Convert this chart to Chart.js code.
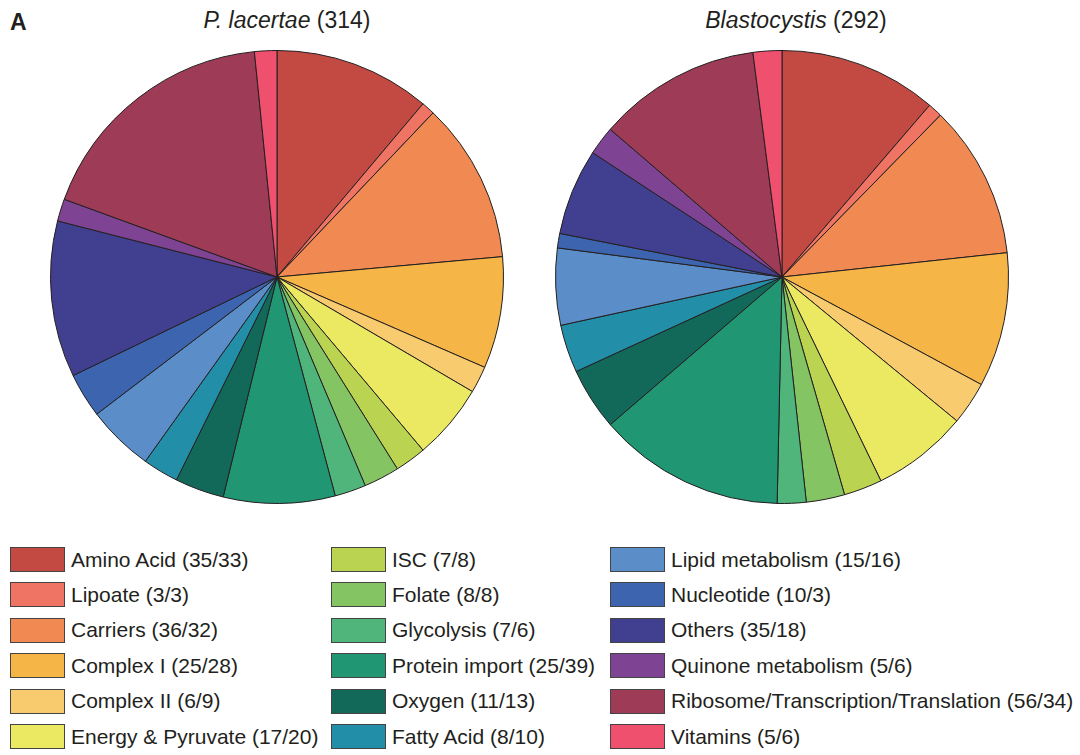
<!DOCTYPE html>
<html>
<head>
<meta charset="utf-8">
<script src="https://cdn.jsdelivr.net/npm/chart.js@4"></script>
<style>
  body { margin: 0; width: 1080px; height: 755px; background: #fff; position: relative; overflow: hidden;
         font-family: "Liberation Sans", Arial, sans-serif; color: #231f20; }
  .panel { position: absolute; left: 10px; top: 9px; font-size: 23px; font-weight: bold; }
  .title { position: absolute; top: 7px; font-size: 23px; transform: translateX(-50%); white-space: nowrap; }
  canvas { position: absolute; }
  .leg { position: absolute; display: flex; align-items: center; font-size: 21px; white-space: nowrap; }
  .leg span.box { width: 53px; height: 23px; border: 1.5px solid #444; margin-right: 6px; }
</style>
</head>
<body>
<div class="panel">A</div>
<div class="title" style="left:287px"><i>P. lacertae</i> (314)</div>
<div class="title" style="left:796px"><i>Blastocystis</i> (292)</div>
<canvas id="pieChart1" width="454" height="454" style="left:50px; top:50px"></canvas>
<canvas id="pieChart2" width="454" height="454" style="left:555px; top:50px"></canvas>
<div id="legend"></div>
<script>
// categories, clockwise from 12 o'clock
const categories = ['Amino Acid', 'Lipoate', 'Carriers', 'Complex I', 'Complex II', 'Energy & Pyruvate',
    'ISC', 'Folate', 'Glycolysis', 'Protein import', 'Oxygen', 'Fatty Acid',
    'Lipid metabolism', 'Nucleotide', 'Others', 'Quinone metabolism', 'Ribosome/Transcription/Translation', 'Vitamins'];
const lacertae = [35, 3, 36, 25, 6, 17, 7, 8, 7, 25, 11, 8, 15, 10, 35, 5, 56, 5];
const blastocystis = [33, 3, 32, 28, 9, 20, 8, 8, 6, 39, 13, 10, 16, 3, 18, 6, 34, 6];
const colors = ['#c34a42', '#ef7463', '#f08a52', '#f5b547', '#f8cb6e', '#ebe962',
    '#bad452', '#85c462', '#4fb57a', '#209673', '#12695a', '#238ea8',
    '#5b8dc8', '#3d64ae', '#413f8f', '#7f4393', '#9e3b57', '#ef506d'];

// Options shared by both pies
const options = {
    responsive: false,
    animation: false,
    layout: { padding: 0 },
    plugins: { legend: { display: false }, tooltip: { enabled: false } }
};

const createChart = (id, values) => new Chart(document.getElementById(id).getContext('2d'), {
    type: 'pie',
    data: {
        labels: categories,
        datasets: [{ data: values, backgroundColor: colors, borderColor: '#231f20', borderWidth: 1 }]
    },
    options: options
});

createChart('pieChart1', lacertae);
createChart('pieChart2', blastocystis);

// Legend: 3 columns of 6
const legend = document.getElementById('legend');
const colX = [10, 331, 610];
categories.forEach((name, i) => {
    const col = Math.floor(i / 6), row = i % 6;
    const div = document.createElement('div');
    div.className = 'leg';
    div.style.left = colX[col] + 'px';
    div.style.top = (547 + row * 35.4) + 'px';
    div.innerHTML = '<span class="box" style="background:' + colors[i] + '"></span>' +
        name + ' (' + lacertae[i] + '/' + blastocystis[i] + ')';
    legend.appendChild(div);
});
</script>
</body>
</html>
